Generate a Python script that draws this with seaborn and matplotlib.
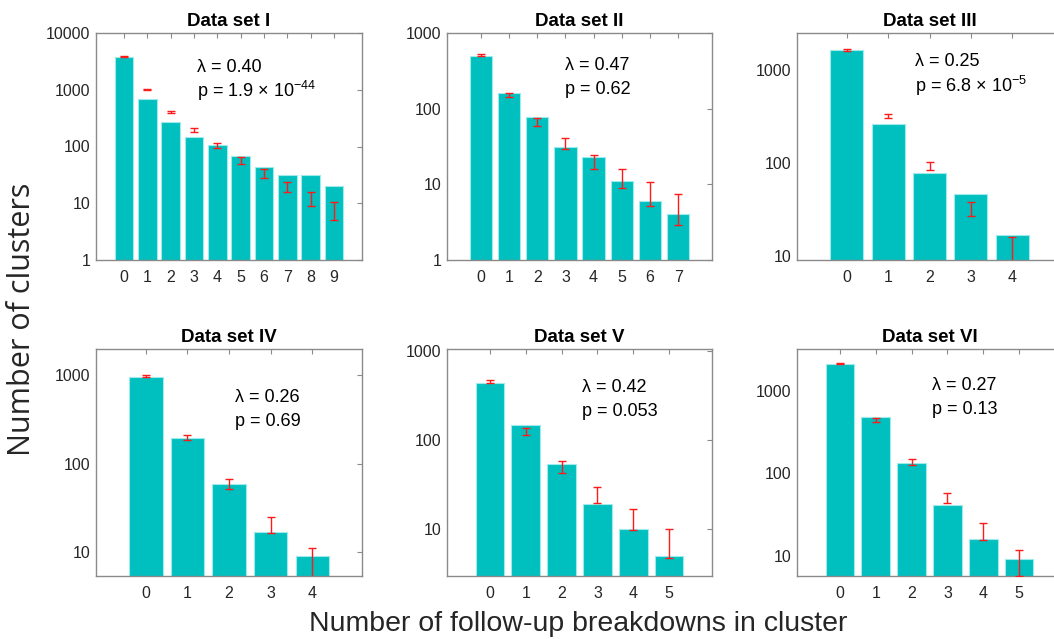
import numpy as np
import pandas as pd
import matplotlib
matplotlib.use('Agg')
import matplotlib.pyplot as plt
import matplotlib.ticker as mticker
import seaborn as sns

# ---- data ----
titles = ['Data set I', 'Data set II', 'Data set III',
          'Data set IV', 'Data set V', 'Data set VI']

counts_1 = [3780, 687, 273, 149, 106, 68, 44, 32, 32, 20]
low_1 = [3720, 985, 385, 178, 93, 49, 27.5, 15.5, 8.9, 5.1]
high_1 = [3860, 1045, 427, 209, 114, 66, 40, 24, 16, 10.7]

counts_2 = [501, 161, 77, 31, 23, 11, 6, 4]
low_2 = [498, 141, 59, 29, 15.8, 8.9, 5.1, 2.9]
high_2 = [522, 162, 75, 41, 24.4, 15.8, 10.6, 7.4]

counts_3 = [1640, 262, 78, 47, 17]
low_3 = [1610, 302, 84, 27, 8.5]
high_3 = [1680, 336, 103, 38, 15.9]

counts_4 = [957, 195, 58, 17, 9]
low_4 = [955, 184, 51, 16.4, 5.0]
high_4 = [1000, 209, 66, 25, 11]

counts_5 = [438, 148, 54, 19.4, 10, 5]
low_5 = [434, 113, 43, 19.6, 9.7, 4.8]
high_5 = [464, 135, 57.5, 29.5, 16.9, 10.2]

counts_6 = [2100, 484, 132, 41, 16, 9.1]
low_6 = [2090, 421, 126, 43.5, 15.8, 5.7]
high_6 = [2160, 462, 149, 58.5, 25, 11.7]

lambdas = ['0.40', '0.47', '0.25', '0.26', '0.42', '0.27']
pvalues = [r'1.9 $\times$ 10$^{-44}$', '0.62', r'6.8 $\times$ 10$^{-5}$',
           '0.69', '0.053', '0.13']

all_counts = [counts_1, counts_2, counts_3, counts_4, counts_5, counts_6]
all_low = [low_1, low_2, low_3, low_4, low_5, low_6]
all_high = [high_1, high_2, high_3, high_4, high_5, high_6]

# ---- layout (pixels of a 1054x639 picture) ----
W, H = 1054, 639
boxes = [(96, 33, 362, 260), (447, 33, 712, 260), (797, 33, 1062, 260),
         (96, 349, 362, 576), (447, 349, 712, 576), (797, 349, 1062, 576)]
ylims = [(1, 10000), (1, 1000), (9.06, 2500), (5.35, 1970), (3.0, 1045), (5.73, 3200)]
text_px = [(197, 67), (565, 65), (915, 62), (235, 397), (582, 387), (932, 385)]

sns.set_theme(style='white')
plt.rcParams['font.family'] = ['Liberation Sans', 'DejaVu Sans']
plt.rcParams['mathtext.fontset'] = 'custom'
plt.rcParams['mathtext.rm'] = 'Liberation Sans'
plt.rcParams['mathtext.it'] = 'Liberation Sans:italic'

fig = plt.figure(figsize=(W / 100, H / 100), dpi=100)

bar_color = '#00bfbf'
spine_color = '#8a8a8a'
text_color = '#262626'

for i in range(6):
    l, t, r, b = boxes[i]
    ax = fig.add_axes([l / W, 1 - b / H, (r - l) / W, (b - t) / H])
    n = len(all_counts[i])
    df = pd.DataFrame({'k': [str(k) for k in range(n)], 'count': all_counts[i]})
    ax.set_yscale('log')
    sns.barplot(data=df, x='k', y='count', color=bar_color, saturation=1,
                width=0.8, edgecolor='#9feaea', linewidth=0.8, ax=ax)
    lo = np.array(all_low[i])
    hi = np.array(all_high[i])
    mid = np.sqrt(lo * hi)
    ax.errorbar(np.arange(n), mid, yerr=[mid - lo, hi - mid], fmt='none',
                ecolor='#ff1a1a', elinewidth=1.0, capsize=3, capthick=1.0, zorder=5)

    ax.set_xlim(-1.2, n - 1 + 1.2)
    ax.set_ylim(*ylims[i])
    ymin, ymax = ylims[i]
    decades = [10 ** e for e in range(0, 6) if ymin <= 10 ** e <= ymax]
    ax.yaxis.set_major_locator(mticker.FixedLocator(decades))
    ax.yaxis.set_major_formatter(mticker.FixedFormatter([str(d) for d in decades]))
    ax.yaxis.set_minor_locator(mticker.NullLocator())
    ax.set_xlabel('')
    ax.set_ylabel('')
    ax.tick_params(direction='in', length=3.5, width=0.8, color=spine_color,
                   top=True, right=True, labelsize=11.5, labelcolor=text_color)
    ax.tick_params(axis='x', pad=7)
    ax.tick_params(axis='y', pad=4)
    for s in ax.spines.values():
        s.set_color(spine_color)
        s.set_linewidth(1.0)
    ax.set_title(titles[i], fontsize=13.5, fontweight='bold', color='black', pad=5)

    tx, ty = text_px[i]
    fx = (tx - l) / (r - l)
    fy = (b - ty) / (b - t)
    dy = 24 / (b - t)
    ax.text(fx, fy, 'λ = ' + lambdas[i], transform=ax.transAxes, fontsize=13,
            color='black', ha='left', va='center')
    ax.text(fx, fy - dy, 'p = ' + pvalues[i], transform=ax.transAxes, fontsize=13,
            color='black', ha='left', va='center')

fig.text(22 / W, 1 - 319 / H, 'Number of clusters', rotation=90, fontsize=22,
         family=['Open Sans', 'DejaVu Sans'], color=text_color, ha='center', va='center')
fig.text(578 / W, 1 - 624 / H, 'Number of follow-up breakdowns in cluster',
         fontsize=20.5, color=text_color, ha='center', va='center')

fig.savefig('out.png', dpi=100)
